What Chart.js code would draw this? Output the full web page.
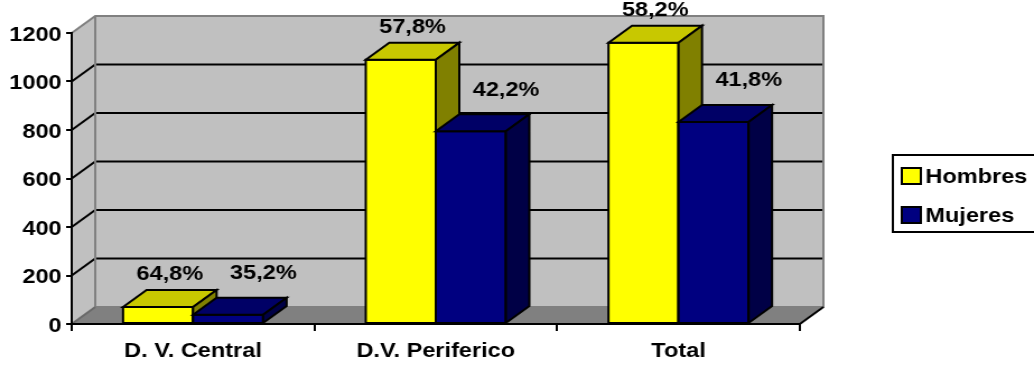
<!DOCTYPE html>
<html>
<head>
<meta charset="utf-8">
<script src="https://cdn.jsdelivr.net/npm/chart.js@4.4.1/dist/chart.umd.min.js"></script>
<style>
  html, body { margin: 0; padding: 0; background: #fff; }
</style>
</head>
<body>
<canvas id="myChart" width="923" height="367" style="width:1034px;height:367px;display:block"></canvas>
<script>
const categorias = ['D. V. Central', 'D.V. Periferico', 'Total']
const hombres = [70, 1090, 1160]
const mujeres = [38, 795, 833]
const yTicks = [0, 200, 400, 600, 800, 1000, 1200]

const FAMILY = '"Liberation Sans", Arial, sans-serif'
const FONT = { family: FAMILY, size: 21, weight: 'bold' }

// profundidad del efecto 3D
const DX = 21, DY = 17

// colores de cara frontal, superior y lateral + desplazamiento de la etiqueta
const caras = [
    { frente: '#FFFF00', arriba: '#C8C800', lado: '#808000', lx: 0, ly: 24 },
    { frente: '#000080', arriba: '#000066', lado: '#000046', lx: 21, ly: 33 }
]

function poly(ctx, pts, fill, stroke, lw) {
    ctx.beginPath()
    ctx.moveTo(pts[0][0], pts[0][1])
    for (let i = 1; i < pts.length; i++) ctx.lineTo(pts[i][0], pts[i][1])
    ctx.closePath()
    if (fill) { ctx.fillStyle = fill; ctx.fill() }
    if (stroke) { ctx.strokeStyle = stroke; ctx.lineWidth = lw || 2; ctx.stroke() }
}

function porcentaje(v, total) {
    return (v / total * 100).toFixed(1).replace('.', ',') + '%'
}

const barras3d = {
    id: 'barras3d',
    beforeDraw(chart) {
        const { ctx, chartArea: a, scales: { y } } = chart
        const L = a.left, R = a.right, T = a.top, B = a.bottom
        ctx.save()
        ctx.lineJoin = 'miter'
        // paredes y suelo
        poly(ctx, [[L, T], [L + DX, T - DY], [L + DX, B - DY], [L, B]], '#C0C0C0')
        ctx.fillStyle = '#C0C0C0'
        ctx.fillRect(L + DX, T - DY, R - L, B - T)
        poly(ctx, [[L, B], [L + DX, B - DY], [R + DX, B - DY], [R, B]], '#808080')

        // lineas de division sobre las paredes
        ctx.strokeStyle = '#000'
        ctx.lineWidth = 2
        y.ticks.forEach(t => {
            if (t.value <= y.min || t.value >= y.max) return
            const py = y.getPixelForValue(t.value)
            ctx.beginPath()
            ctx.moveTo(L, py)
            ctx.lineTo(L + DX, py - DY)
            ctx.lineTo(R + DX, py - DY)
            ctx.stroke()
        })

        ctx.strokeStyle = '#808080'
        ctx.beginPath()
        ctx.moveTo(L, T)
        ctx.lineTo(L + DX, T - DY)
        ctx.lineTo(R + DX, T - DY)
        ctx.lineTo(R + DX, B - DY)
        ctx.lineTo(L + DX, B - DY)
        ctx.lineTo(L + DX, T - DY)
        ctx.stroke()
        ctx.strokeStyle = '#6a6a6a'
        ctx.beginPath()
        ctx.moveTo(L, B)
        ctx.lineTo(L + DX, B - DY)
        ctx.stroke()

        ctx.strokeStyle = '#000'
        ctx.beginPath()
        ctx.moveTo(R, B)
        ctx.lineTo(R + DX, B - DY)
        ctx.stroke()
        ctx.restore()
    },
    beforeDatasetDraw() {
        return false
    },
    afterDatasetsDraw(chart) {
        const ctx = chart.ctx
        const sets = chart.data.datasets
        ctx.save()
        ctx.lineJoin = 'miter'
        categorias.forEach((c, i) => {
            sets.forEach((ds, d) => {
                const el = chart.getDatasetMeta(d).data[i]
                const k = caras[d]
                const l = el.x - el.width / 2, r = el.x + el.width / 2
                const t = el.y, b = el.base
                poly(ctx, [[l, t], [r, t], [r, b], [l, b]], k.frente, '#000', 2)
                poly(ctx, [[l, t], [l + DX, t - DY], [r + DX, t - DY], [r, t]], k.arriba, '#000', 2)
                poly(ctx, [[r, t], [r + DX, t - DY], [r + DX, b - DY], [r, b]], k.lado, '#000', 2)
            })
        })

        ctx.font = 'bold 21px ' + FAMILY
        ctx.fillStyle = '#000'
        ctx.textAlign = 'center'
        ctx.textBaseline = 'middle'
        categorias.forEach((c, i) => {
            const total = sets.reduce((s, ds) => s + ds.data[i], 0)
            sets.forEach((ds, d) => {
                const el = chart.getDatasetMeta(d).data[i]
                const k = caras[d]
                ctx.fillText(porcentaje(ds.data[i], total), el.x + DX / 2 + k.lx, el.y - DY / 2 - k.ly)
            })
        })
        ctx.restore()
    },
    afterDraw(chart) {
        // leyenda con recuadro
        const ctx = chart.ctx
        const lx = 797, ly = 155, lh = 77
        ctx.save()
        ctx.fillStyle = '#fff'
        ctx.fillRect(lx, ly, chart.width - lx + 10, lh)
        ctx.strokeStyle = '#000'
        ctx.lineWidth = 2
        ctx.strokeRect(lx, ly, chart.width - lx + 10, lh)
        ctx.font = 'bold 21px ' + FAMILY
        ctx.textAlign = 'left'
        ctx.textBaseline = 'middle'
        chart.data.datasets.forEach((ds, d) => {
            const yy = 168 + d * 39
            ctx.fillStyle = ds.backgroundColor
            ctx.fillRect(805, yy, 17, 16)
            ctx.strokeRect(805, yy, 17, 16)
            ctx.fillStyle = '#000'
            ctx.fillText(ds.label, 826, yy + 9.5)
        })
        ctx.restore()
    }
}

const canvas = document.getElementById('myChart')
const chart = new Chart(canvas, {
    type: 'bar',
    data: {
        labels: categorias,
        datasets: [
            { label: 'Hombres', data: hombres, backgroundColor: caras[0].frente },
            { label: 'Mujeres', data: mujeres, backgroundColor: caras[1].frente }
        ]
    },
    options: {
        responsive: false,
        animation: false,
        events: [],
        layout: { padding: { top: 33, right: 209, bottom: 0, left: 0 } },
        datasets: {
            bar: { barPercentage: 1, categoryPercentage: 0.577 }
        },
        plugins: {
            legend: { display: false },
            tooltip: { enabled: false }
        },
        scales: {
            x: {
                grid: { drawOnChartArea: false, color: '#000', lineWidth: 2, tickLength: 7 },
                border: { color: '#000', width: 2 },
                ticks: { color: '#000', font: FONT, padding: 8, maxRotation: 0, autoSkip: false },
                afterFit(s) { s.height = 43 }
            },
            y: {
                min: 0,
                max: 1200,
                afterBuildTicks(s) { s.ticks = yTicks.map(v => ({ value: v })) },
                grid: { drawOnChartArea: false, color: '#000', lineWidth: 2, tickLength: 5 },
                border: { color: '#000', width: 2 },
                ticks: {
                    color: '#000',
                    font: FONT,
                    padding: 4,
                    labelOffset: 2,
                    callback: v => String(v)
                },
                afterFit(s) { s.width = 64 }
            }
        }
    },
    plugins: [barras3d]
})
</script>
</body>
</html>
